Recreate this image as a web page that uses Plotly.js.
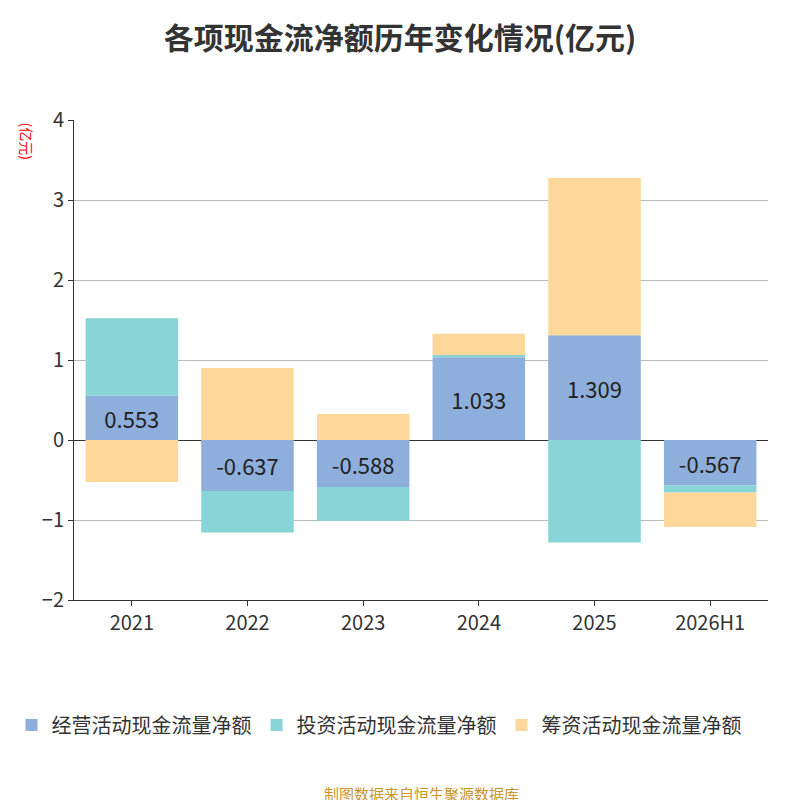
<!DOCTYPE html>
<html><head><meta charset="utf-8">
<script src="https://cdn.plot.ly/plotly-3.0.1.min.js"></script>
<style>body{margin:0}#c{width:800px;height:800px}</style>
</head><body><div id="c"></div>
<script>
const years = ["2021", "2022", "2023", "2024", "2025", "2026H1"];
const operating = [0.553, -0.637, -0.588, 1.033, 1.309, -0.567];
const investing = [0.97, -0.52, -0.42, 0.03, -1.28, -0.09];
const financing = [-0.525, 0.9, 0.325, 0.265, 1.966, -0.43];

const font = "'Noto Sans CJK SC', 'Noto Sans', sans-serif";

const traces = [
  { name: "经营活动现金流量净额", y: operating, color: "#8eaedb",
    text: operating.map(v => v.toFixed(3)) },
  { name: "投资活动现金流量净额", y: investing, color: "#88d5d8" },
  { name: "筹资活动现金流量净额", y: financing, color: "#fdd89a" },
].map(s => ({
  type: "bar", x: years, y: s.y, name: s.name,
  marker: { color: s.color },
  text: s.text, textposition: s.text ? "inside" : "none",
  insidetextanchor: "middle",
  textfont: { size: 22, color: "#222" },
  hoverinfo: "x+y+name",
}));

const layout = {
  barmode: "relative",
  bargap: 0.2,
  title: { text: "<b>各项现金流净额历年变化情况(亿元)</b>", x: 0.5, y: 0.965,
           font: { size: 30, color: "#333", family: font } },
  xaxis: { type: "category", showline: true, linecolor: "#333", ticks: "outside", tickcolor: "#333",
           tickfont: { size: 20, color: "#333" } },
  yaxis: { range: [-2, 4], dtick: 1, gridcolor: "#bbb", showline: true, linecolor: "#333",
           ticks: "outside", tickcolor: "#333", zeroline: true, zerolinecolor: "#333",
           tickfont: { size: 20, color: "#333" } },
  annotations: [
    { text: "(亿元)", textangle: 90, xref: "paper", yref: "paper", x: -0.085, y: 1.0,
      showarrow: false, font: { size: 14, color: "red" } },
    { text: "制图数据来自恒生聚源数据库", xref: "paper", yref: "paper", x: 0.5, y: -0.43,
      showarrow: false, font: { size: 15, color: "#c8962a" } },
  ],
  legend: { orientation: "h", x: -0.09, y: -0.22, xanchor: "left",
            font: { size: 20, color: "#333" } },
  showlegend: true,
  margin: { t: 120, l: 65, r: 32, b: 200 },
  font: { family: font },
  plot_bgcolor: "#fff", paper_bgcolor: "#fff",
};

Plotly.newPlot("c", traces, layout, { displayModeBar: false });
</script></body></html>
